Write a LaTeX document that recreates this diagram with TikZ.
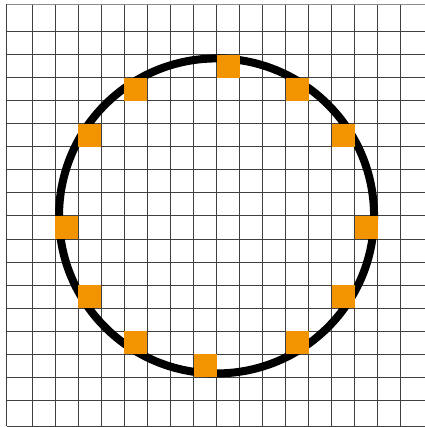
\documentclass[tikz,border=0pt]{standalone}
\definecolor{sq}{RGB}{242,148,0}
\begin{document}
\begin{tikzpicture}[x=1pt,y=-1pt]
\useasboundingbox (0,0) rectangle (424,427);
\def\s{23.03}
\tikzset{gridline/.style={draw=black!75,line width=0.9pt}}
\foreach \i in {0,...,16} \draw[gridline] ({32.3+\i*\s},4) -- ({32.3+\i*\s},426);
\foreach \j in {0,...,16} \draw[gridline] (6.7,{31.7+\j*\s}) -- (430,{31.7+\j*\s});
\draw[gridline,draw=black!45] (6.7,4) -- (430,4);
\draw[gridline] (6.7,426) -- (430,426);
\draw[gridline] (6.7,4) -- (6.7,426);
\coordinate (c) at ({32.3+8*\s},{31.7+8*\s});
\draw[line width=8pt] (c) circle[radius=157.5pt];
\foreach \i/\j in {8/1,11/2,13/4,14/8,13/11,11/13,7/14,4/13,2/11,1/8,2/4,4/2}
  \fill[sq] ({32.3+\i*\s},{31.7+\j*\s}) rectangle ++(\s,\s);
\end{tikzpicture}
\end{document}
